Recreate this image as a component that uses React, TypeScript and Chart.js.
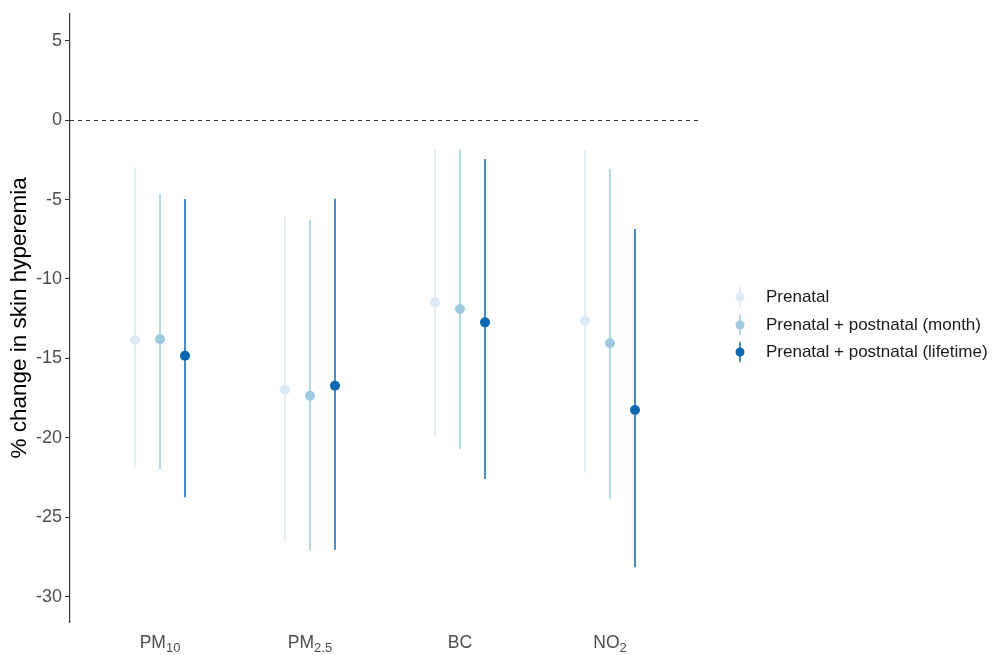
import { useEffect, useRef } from 'react';
import { Chart, registerables } from 'chart.js';
Chart.register(...registerables);

const categoryBase = ['PM', 'PM', 'BC', 'NO'];
const categorySub = ['10', '2.5', '', '2'];
const seriesNames = ['Prenatal', 'Prenatal + postnatal (month)', 'Prenatal + postnatal (lifetime)'];
const seriesColors = ['#dce9f6', '#9ecae1', '#0b67ae'];

const prenatalEst = [-13.84, -16.97, -11.47, -12.63];
const prenatalLow = [-21.86, -26.59, -19.97, -22.18];
const prenatalHigh = [-2.97, -6.08, -1.88, -1.88];

const monthEst = [-13.8, -17.35, -11.89, -14.05];
const monthLow = [-21.97, -27.1, -20.7, -23.85];
const monthHigh = [-4.65, -6.27, -1.86, -3.07];

const lifetimeEst = [-14.83, -16.72, -12.73, -18.25];
const lifetimeLow = [-23.75, -27.05, -22.6, -28.16];
const lifetimeHigh = [-4.96, -4.94, -2.45, -6.85];

const yTicks = [5, 0, -5, -10, -15, -20, -25, -30];

const FONT = '"Liberation Sans", Arial, sans-serif';

export default function App() {
  const ref = useRef<HTMLCanvasElement | null>(null);
  useEffect(() => {
    document.body.style.margin = '0';
    const canvas = ref.current!;
    const est = [prenatalEst, monthEst, lifetimeEst];
    const low = [prenatalLow, monthLow, lifetimeLow];
    const high = [prenatalHigh, monthHigh, lifetimeHigh];
    const dodge = [-1 / 6, 0, 1 / 6];

    const datasets = seriesNames.map((name, i) => ({
      label: name,
      data: est[i].map((v, j) => ({ x: j + 1 + dodge[i], y: v })),
      backgroundColor: seriesColors[i],
      borderColor: seriesColors[i],
      pointRadius: 5,
      pointBorderWidth: 0,
      showLine: false,
    }));

    const errorBars = {
      id: 'errorBars',
      beforeDatasetsDraw(chart: any) {
        const ctx = chart.ctx;
        const y = chart.scales.y;
        const x = chart.scales.x;
        const area = chart.chartArea;
        ctx.save();
        ctx.strokeStyle = '#333333';
        ctx.lineWidth = 1;
        ctx.setLineDash([4, 4]);
        const y0 = Math.round(y.getPixelForValue(0)) + 0.5;
        ctx.beginPath();
        ctx.moveTo(area.left, y0);
        ctx.lineTo(x.getPixelForValue(4.6), y0);
        ctx.stroke();
        ctx.restore();

        ctx.save();
        ctx.lineWidth = 1.5;
        for (let i = 0; i < 3; i++) {
          const meta = chart.getDatasetMeta(i);
          ctx.strokeStyle = seriesColors[i];
          meta.data.forEach((pt: any, j: number) => {
            ctx.beginPath();
            ctx.moveTo(pt.x, y.getPixelForValue(low[i][j]));
            ctx.lineTo(pt.x, y.getPixelForValue(high[i][j]));
            ctx.stroke();
          });
        }
        ctx.restore();
      },
      afterDraw(chart: any) {
        const ctx = chart.ctx;
        const x = chart.scales.x;
        const area = chart.chartArea;
        ctx.save();
        ctx.fillStyle = '#4d4d4d';
        ctx.textBaseline = 'alphabetic';
        categoryBase.forEach((base, j) => {
          ctx.font = `17.5px ${FONT}`;
          const w1 = ctx.measureText(base).width;
          ctx.font = `13px ${FONT}`;
          const w2 = categorySub[j] ? ctx.measureText(categorySub[j]).width : 0;
          const cx = x.getPixelForValue(j + 1);
          const start = cx - (w1 + w2) / 2;
          const by = area.bottom + 26;
          ctx.font = `17.5px ${FONT}`;
          ctx.textAlign = 'left';
          ctx.fillText(base, start, by);
          if (categorySub[j]) {
            ctx.font = `13px ${FONT}`;
            ctx.fillText(categorySub[j], start + w1, by + 4);
          }
        });
        const lx = 740;
        const rows = [297, 325, 352];
        seriesNames.forEach((name, i) => {
          const ry = rows[i];
          ctx.strokeStyle = seriesColors[i];
          ctx.lineWidth = 1.5;
          ctx.beginPath();
          ctx.moveTo(lx, ry - 10);
          ctx.lineTo(lx, ry + 10);
          ctx.stroke();
          ctx.fillStyle = seriesColors[i];
          ctx.beginPath();
          ctx.arc(lx, ry, 4.5, 0, Math.PI * 2);
          ctx.fill();
          ctx.fillStyle = '#1a1a1a';
          ctx.font = `17px ${FONT}`;
          ctx.textAlign = 'left';
          ctx.textBaseline = 'middle';
          ctx.fillText(name, 766, ry);
        });
        ctx.restore();
      },
    };

    const chart = new Chart(canvas, {
      type: 'scatter',
      data: { datasets },
      plugins: [errorBars],
      options: {
        animation: false,
        responsive: false,
        devicePixelRatio: 1,
        layout: { padding: { top: 13, bottom: 33, left: 0, right: 294 } },
        plugins: { legend: { display: false }, tooltip: { enabled: false } },
        scales: {
          x: {
            type: 'linear',
            min: 0.4,
            max: 4.6,
            display: false,
          },
          y: {
            type: 'linear',
            min: -31.6,
            max: 6.7,
            afterBuildTicks(scale: any) {
              scale.ticks = yTicks.map((v) => ({ value: v }));
            },
            afterFit(scale: any) {
              scale.width = 70;
            },
            border: { display: true, color: '#333333', width: 1.2 },
            grid: { drawOnChartArea: false, drawTicks: true, tickLength: 5, color: '#333333' },
            ticks: {
              color: '#4d4d4d',
              font: { size: 18, family: FONT },
              padding: 3,
              callback: (v: any) => String(v),
            },
            title: {
              display: true,
              text: '% change in skin hyperemia',
              color: '#000000',
              font: { size: 22.5, family: FONT },
              padding: { top: 6, bottom: 0 },
            },
          },
        },
      },
    });
    return () => chart.destroy();
  }, []);
  return (
    <div style={{ width: 994, height: 655 }}>
      <canvas ref={ref} width={994} height={655} style={{ display: 'block' }} />
    </div>
  );
}
